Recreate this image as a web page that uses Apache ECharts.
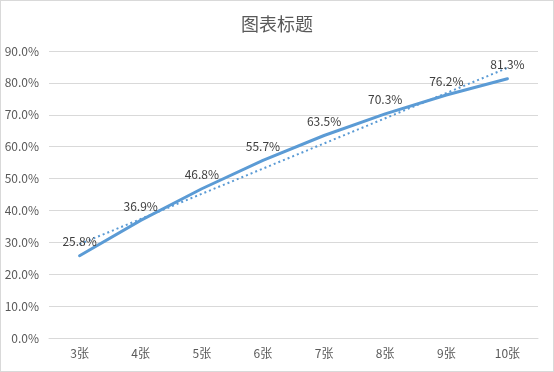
<!DOCTYPE html>
<html>
<head>
<meta charset="utf-8">
<script src="https://cdn.jsdelivr.net/npm/echarts@6/dist/echarts.min.js"></script>
<style>
html,body{margin:0;padding:0;background:#fff;}
#c{width:554px;height:372px;box-sizing:border-box;border:1px solid #d9d9d9;}
</style>
</head>
<body>
<div id="c"></div>
<script>
const categories = ['3张','4张','5张','6张','7张','8张','9张','10张'];
const values = [25.8, 36.9, 46.8, 55.7, 63.5, 70.3, 76.2, 81.3];
const yTicks = [0, 10, 20, 30, 40, 50, 60, 70, 80, 90];

// Linear trendline (least squares) over the series values
const n = values.length;
const mx = (n + 1) / 2;
const my = values.reduce((a, b) => a + b, 0) / n;
let sxy = 0, sxx = 0;
values.forEach((v, i) => { const dx = (i + 1) - mx; sxy += dx * v; sxx += dx * dx; });
const slope = sxy / sxx;
const trend = values.map((v, i) => +(my + slope * ((i + 1) - mx)).toFixed(3));

const chart = echarts.init(document.getElementById('c'), null, {renderer: 'canvas'});
const font = '"Noto Sans CJK SC", "Noto Sans", sans-serif';
chart.setOption({
  animation: false,
  title: {
    text: '图表标题', left: 'center', top: 9,
    textStyle: {fontFamily: font, fontSize: 18, fontWeight: 'normal', color: '#595959'}
  },
  grid: {left: 48, right: 15, top: 50, bottom: 33, containLabel: false},
  xAxis: {
    type: 'category', data: categories, boundaryGap: true,
    axisLine: {show: true, lineStyle: {color: '#d9d9d9', width: 1}},
    axisTick: {show: false},
    axisLabel: {color: '#595959', fontSize: 12, fontFamily: font, margin: 9}
  },
  yAxis: {
    type: 'value', min: yTicks[0], max: yTicks[yTicks.length - 1], interval: 10,
    axisLine: {show: false}, axisTick: {show: false},
    splitLine: {lineStyle: {color: '#d9d9d9', width: 1}},
    axisLabel: {color: '#595959', fontSize: 12, fontFamily: font, margin: 10,
      formatter: v => v.toFixed(1) + '%'}
  },
  series: [
    {
      type: 'line', data: trend, symbol: 'none', silent: true,
      lineStyle: {color: '#5b9bd5', width: 2, type: [2, 3]}, z: 1
    },
    {
      type: 'line', data: values, symbol: 'circle', symbolSize: 0, showSymbol: true,
      itemStyle: {color: '#5b9bd5'},
      lineStyle: {color: '#5b9bd5', width: 3, cap: 'round'},
      label: {show: true, position: 'top', distance: 8, color: '#404040', fontSize: 12,
        fontFamily: font, formatter: p => p.value.toFixed(1) + '%'},
      labelLayout: {hideOverlap: false},
      z: 2
    }
  ]
});
</script>
</body>
</html>
